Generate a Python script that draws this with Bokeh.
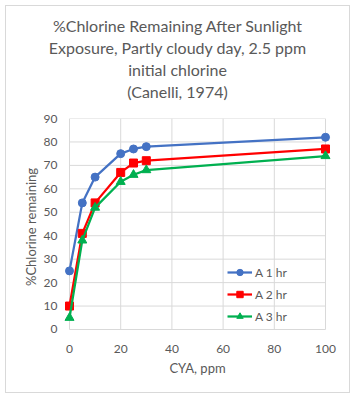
from bokeh.plotting import figure
from bokeh.models import Range1d, Legend, LegendItem, Div
from bokeh.layouts import column
from bokeh.embed import file_html
from bokeh.resources import INLINE

# ---- data ----
cya = [0, 5, 10, 20, 25, 30, 100]
a1 = [25, 54, 65, 75, 77, 78, 82]
a2 = [10, 41, 54, 67, 71, 72, 77]
a3 = [5, 38, 52, 63, 66, 68, 74]
series_names = ["A 1 hr", "A 2 hr", "A 3 hr"]
x_ticks = [0, 20, 40, 60, 80, 100]
y_ticks = [0, 10, 20, 30, 40, 50, 60, 70, 80, 90]
title_lines = [
    "%Chlorine Remaining After Sunlight",
    "Exposure, Partly cloudy day, 2.5 ppm",
    "initial chlorine",
    "(Canelli, 1974)",
]
x_title = "CYA, ppm"
y_title = "%Chlorine remaining"

FONT = "Lato"
TXT = "#595959"
GRID = "#d9d9d9"
W = 343

xpad = 6 / 2.56
ypad = 6 / 2.344

title_div = Div(
    text=('<div style="width:%dpx;height:100px;box-sizing:border-box;text-align:center;'
          'font-family:Lato;font-size:16px;color:#595959;line-height:22px;'
          'padding-top:9px;white-space:nowrap;">' % W
          + "<br>".join(title_lines) + "</div>"),
    width=W, height=100, margin=0)

p = figure(width=W, height=286, output_backend="svg", toolbar_location=None,
           x_range=Range1d(min(x_ticks) - xpad, max(x_ticks) + xpad),
           y_range=Range1d(min(y_ticks) - ypad, max(y_ticks)),
           min_border_left=57, min_border_right=18,
           min_border_top=12, min_border_bottom=57, margin=0)
p.outline_line_color = None
p.xgrid.visible = False
p.ygrid.visible = False
p.title.visible = False

# gridlines restricted to the data area
p.segment(x0=[min(x_ticks)] * len(y_ticks), x1=[max(x_ticks)] * len(y_ticks),
          y0=y_ticks, y1=y_ticks, line_color=GRID, line_width=1)
p.segment(x0=x_ticks, x1=x_ticks, y0=[min(y_ticks)] * len(x_ticks),
          y1=[max(y_ticks)] * len(x_ticks), line_color=GRID, line_width=1)

colors = ["#4472C4", "#FF0000", "#00B050"]
markers = ["circle", "square", "triangle"]
sizes = [8, 8, 9]
items = []
for ys, name, c, m, s in zip([a1, a2, a3], series_names, colors, markers, sizes):
    lr = p.line(cya, ys, line_color=c, line_width=2.25)
    mr = p.scatter(cya, ys, marker=m, size=s, fill_color=c, line_color=c)
    items.append(LegendItem(label=name, renderers=[lr, mr]))

legend = Legend(items=items, location=(164, 11), padding=0, margin=0,
                spacing=6, glyph_width=25, glyph_height=16, label_height=16,
                label_standoff=3, border_line_color=None, background_fill_alpha=0,
                label_text_font=FONT, label_text_font_size="12px",
                label_text_color=TXT)
p.add_layout(legend)

for ax in (p.xaxis, p.yaxis):
    ax.axis_line_color = None
    ax.major_tick_line_color = None
    ax.minor_tick_line_color = None
    ax.major_tick_out = 0
    ax.major_tick_in = 0
    ax.minor_tick_out = 0
    ax.minor_tick_in = 0
    ax.major_label_text_font = FONT
    ax.major_label_text_font_size = "12px"
    ax.major_label_text_color = TXT
    ax.axis_label_text_font = FONT
    ax.axis_label_text_font_size = "13px"
    ax.axis_label_text_color = TXT
    ax.axis_label_text_font_style = "normal"
p.xaxis.ticker = x_ticks
p.yaxis.ticker = y_ticks
p.xaxis.axis_label = x_title
p.yaxis.axis_label = y_title
p.xaxis.major_label_standoff = 9
p.xaxis.axis_label_standoff = 4
p.yaxis.major_label_standoff = 6
p.yaxis.axis_label_standoff = 2

layout = column(title_div, p, spacing=0)
layout.margin = (5, 0, 0, 5)
layout.styles = {"border": "1px solid #d9d9d9"}

open("out.html", "w").write(file_html(layout, INLINE))
